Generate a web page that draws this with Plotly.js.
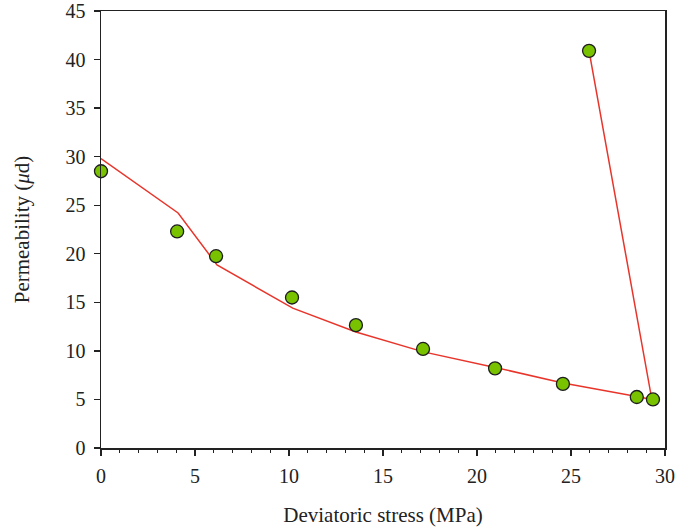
<!DOCTYPE html>
<html>
<head>
<meta charset="utf-8">
<script src="https://cdn.plot.ly/plotly-3.0.1.min.js"></script>
<style>html,body{margin:0;padding:0;background:#fff;}#chart{width:675px;height:532px;}</style>
</head>
<body>
<div id="chart"></div>
<script>
// Measured points
var stressPts = [0, 4.05, 6.12, 10.16, 13.56, 17.13, 20.96, 24.57, 28.5, 29.36, 25.96];
var permPts   = [28.5, 22.3, 19.75, 15.5, 12.65, 10.2, 8.2, 6.6, 5.25, 5.0, 40.9];
// Fitted line vertices
var stressFit = [0, 4.1, 6.17, 10.2, 13.56, 17.15, 20.96, 24.57, 28.5, 29.3, 25.96];
var permFit   = [29.8, 24.2, 18.85, 14.4, 11.95, 9.9, 8.3, 6.7, 5.3, 5.0, 40.9];

var xTitle = 'Deviatoric stress (MPa)';
var yTitle = 'Permeability (<i>μ</i>d)';

var font = 'Liberation Serif, DejaVu Serif, serif';
var traces = [
  {x: stressFit, y: permFit, mode: 'lines', type: 'scatter',
   line: {color: '#e8352b', width: 1.5}, hoverinfo: 'skip', showlegend: false, cliponaxis: false},
  {x: stressPts, y: permPts, mode: 'markers', type: 'scatter',
   marker: {size: 13, color: '#78c200', line: {color: '#1e1e1e', width: 1.3}},
   showlegend: false, cliponaxis: false}
];
var axisCommon = {
  showgrid: false, zeroline: false, showline: true, linecolor: '#222', linewidth: 1.5,
  mirror: true, ticks: 'outside', ticklen: 6, tickwidth: 1.3, tickcolor: '#222',
  tickfont: {family: font, size: 20, color: '#222'}
};
var layout = {
  width: 675, height: 532,
  margin: {l: 101, r: 10, t: 11, b: 84},
  paper_bgcolor: '#fff', plot_bgcolor: '#fff',
  font: {family: font, color: '#222'},
  xaxis: Object.assign({}, axisCommon, {
    range: [0, 30], tickvals: [0, 5, 10, 15, 20, 25, 30], ticklabelstandoff: 3,
    minor: {dtick: 1, ticks: 'outside', ticklen: 3, tickwidth: 1.2, tickcolor: '#222', showgrid: false},
    title: {text: xTitle, font: {family: font, size: 21, color: '#222'}, standoff: 22}
  }),
  yaxis: Object.assign({}, axisCommon, {
    range: [0, 45], tickvals: [0, 5, 10, 15, 20, 25, 30, 35, 40, 45], ticklabelstandoff: 4,
    title: {text: yTitle, font: {family: font, size: 21, color: '#222'}, standoff: 30}
  })
};
Plotly.newPlot('chart', traces, layout, {staticPlot: true, displayModeBar: false});
</script>
</body>
</html>
